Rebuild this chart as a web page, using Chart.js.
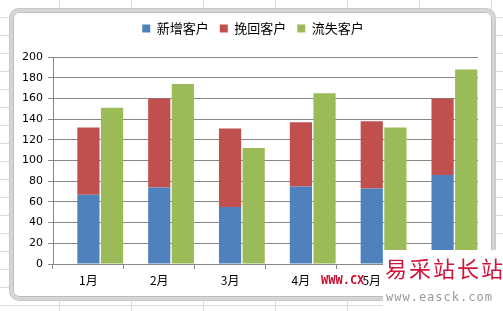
<!DOCTYPE html>
<html>
<head>
<meta charset="utf-8">
<script src="https://cdn.jsdelivr.net/npm/chart.js@4.4.1/dist/chart.umd.min.js"></script>
<style>
    html, body { margin: 0; padding: 0; }
    body {
        width: 503px; height: 311px; overflow: hidden; position: relative;
        background-color: #fff;
        background-image:
            repeating-linear-gradient(to right, transparent 0 59px, #dadcdd 59px 60px, transparent 60px 72px),
            repeating-linear-gradient(to bottom, transparent 0 17px, #dadcdd 17px 18px);
    }
    #frame {
        position: absolute; left: 10px; top: 9px; width: 479px; height: 285px;
        border: 3px solid #d6d6d6; border-radius: 9px; background: #fff;
        box-shadow: inset 0 0 0 1px #bdbdbd, 0 0 0 1px #c8c8c8;
    }
    #wrap { position: absolute; left: 0; top: 0; width: 503px; height: 311px; }
    #mark {
        position: absolute; left: 383px; top: 250px; width: 120px; height: 61px; background: #fff;
    }
    #mark .cn { position: absolute; left: 2px; top: 1px; font: 22px "Noto Sans CJK SC"; color: #d2143a; letter-spacing: 2px; white-space: nowrap; }
    #mark .url { position: absolute; left: 3px; top: 40px; font: 12px "DejaVu Sans Mono"; color: #9a9a9a; letter-spacing: 1px; white-space: nowrap; }
    #www { position: absolute; left: 321px; top: 273px; font: bold 12px "DejaVu Sans Mono"; color: #c8102e; white-space: nowrap; }
</style>
</head>
<body>
<div id="frame"></div>
<div id="wrap"><canvas id="customerChart" width="503" height="311"></canvas></div>
<div id="www">WWW.CX</div>
<div id="mark"><span class="cn">易采站长站</span><span class="url">www.easck.com</span></div>

<script>
const months = ['1月', '2月', '3月', '4月', '5月', '6月'];
const newCustomers = [67, 74, 55, 75, 73, 86];
const wonBack = [65, 86, 76, 62, 65, 74];
const lost = [151, 174, 112, 165, 132, 188];
// empty series: Excel leaves an empty slot at the left of each month
const spacer = [null, null, null, null, null, null];

const gridColor = '#868686';

// keep the legend band a fixed height so the plot starts where Excel puts it
const legendHeight = {
    id: 'legendHeight',
    beforeInit(chart) {
        const fit = chart.legend.fit;
        chart.legend.fit = function () {
            fit.bind(this)();
            this.height = 46;
        };
    },
    beforeDraw(chart) {
        // Excel centres the legend on the whole frame
        chart.legend.left = 20;
        chart.legend.right = 486;
    }
};

const ctx = document.getElementById('customerChart').getContext('2d');
new Chart(ctx, {
    type: 'bar',
    data: {
        labels: months,
        datasets: [
            { label: '', data: spacer, stack: 'gap' },
            { label: '新增客户', data: newCustomers, backgroundColor: '#4F81BD', stack: 'kept' },
            { label: '挽回客户', data: wonBack, backgroundColor: '#C0504D', stack: 'kept' },
            { label: '流失客户', data: lost, backgroundColor: '#9BBB59', stack: 'lost' }
        ]
    },
    options: {
        responsive: false,
        animation: false,
        categoryPercentage: 1.0,
        barPercentage: 0.94,
        layout: { padding: { left: 12, right: 25, top: 11, bottom: 13 } },
        plugins: {
            legend: {
                position: 'top',
                labels: {
                    boxWidth: 8, boxHeight: 8, padding: 11,
                    color: '#000',
                    font: { family: '"Noto Sans CJK SC"', size: 13 },
                    filter: item => item.text !== ''
                }
            },
            tooltip: { enabled: false }
        },
        scales: {
            x: {
                stacked: true,
                grid: { offset: true, drawOnChartArea: false, drawTicks: true, tickLength: 5, color: gridColor },
                border: { color: gridColor },
                ticks: { color: '#000', padding: 4, font: { family: '"Noto Sans CJK SC"', size: 12 } },
                afterFit(scale) { scale.height = 34; }
            },
            y: {
                stacked: true,
                min: 0, max: 200,
                grid: { color: gridColor, tickLength: 5 },
                border: { color: gridColor },
                ticks: { stepSize: 20, color: '#000', padding: 5, font: { family: '"DejaVu Sans"', size: 11 } },
                afterFit(scale) { scale.width = 41; }
            }
        }
    },
    plugins: [legendHeight]
});
</script>
</body>
</html>
